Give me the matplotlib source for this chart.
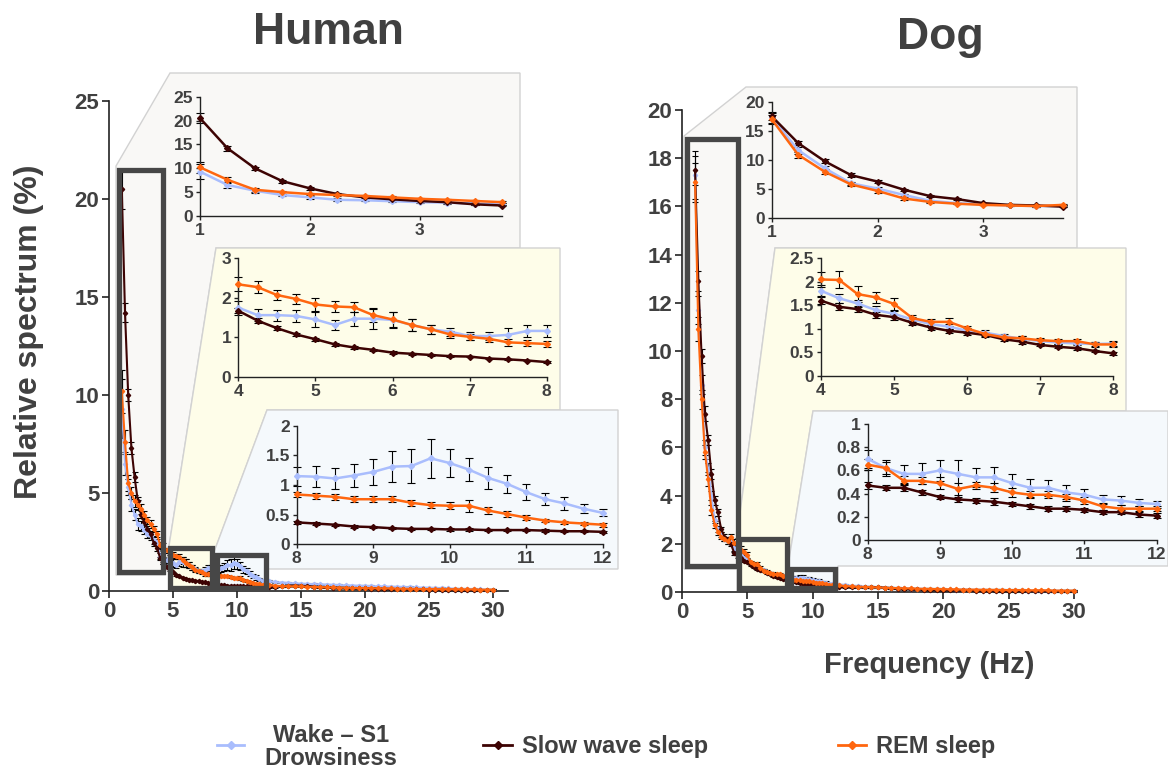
import matplotlib
matplotlib.use("Agg")
import matplotlib.pyplot as plt
from matplotlib.patches import Polygon, Rectangle
from matplotlib.lines import Line2D
from matplotlib.ticker import FuncFormatter
import numpy as np

plt.rcParams['font.family'] = ['Liberation Sans', 'DejaVu Sans']
plt.rcParams['font.weight'] = 'bold'

W, H = 1168, 771
GREY = '#404040'
C_WAKE = '#a9bdfd'
C_SWS = '#3d0303'
C_REM = '#ff660f'

# frequency bins (Hz)
f_low = np.arange(1.0, 3.76, 0.25)
f_mid = np.arange(4.0, 8.01, 0.25)
f_high = np.arange(8.0, 12.01, 0.25)
f_tail = np.arange(12.5, 30.01, 0.5)

# ---------------- Human ----------------
hum_wake_low = [9.3, 6.5, 5.3, 4.4, 3.9, 3.4, 3.3, 3.1, 2.9, 2.8, 2.6, 2.5]
hum_sws_low = [20.5, 14.2, 10.0, 7.3, 5.8, 4.6, 3.9, 3.5, 3.15, 2.9, 2.45, 2.2]
hum_rem_low = [10.2, 7.6, 5.5, 5.0, 4.6, 4.4, 4.2, 3.9, 3.6, 3.4, 3.15, 2.9]
hum_wake_low_err = [1.5, 0.6, 0.4, 0.3, 0.3, 0.3, 0.25, 0.2, 0.2, 0.2, 0.2, 0.15]
hum_sws_low_err = [1.0, 0.5, 0.3, 0.3, 0.25, 0.2, 0.2, 0.15, 0.15, 0.15, 0.15, 0.15]
hum_rem_low_err = [1.1, 0.6, 0.4, 0.3, 0.3, 0.25, 0.25, 0.2, 0.2, 0.2, 0.15, 0.15]

hum_wake_mid = [1.75, 1.56, 1.56, 1.54, 1.45, 1.31, 1.47, 1.47, 1.44, 1.31, 1.20, 1.14, 1.03, 1.03, 1.06, 1.16, 1.16]
hum_sws_mid = [1.67, 1.42, 1.23, 1.07, 0.95, 0.82, 0.74, 0.68, 0.61, 0.58, 0.55, 0.52, 0.51, 0.46, 0.44, 0.41, 0.37]
hum_rem_mid = [2.34, 2.27, 2.07, 1.97, 1.83, 1.78, 1.76, 1.56, 1.45, 1.31, 1.20, 1.07, 1.01, 0.96, 0.87, 0.85, 0.83]
hum_wake_mid_err = [0.18, 0.16, 0.14, 0.15, 0.2, 0.13, 0.18, 0.25, 0.21, 0.15, 0.11, 0.1, 0.11, 0.11, 0.17, 0.16, 0.16]
hum_sws_mid_err = [0.06, 0.06, 0.05, 0.04, 0.04, 0.03, 0.03, 0.03, 0.03, 0.03, 0.02, 0.02, 0.02, 0.02, 0.02, 0.02, 0.02]
hum_rem_mid_err = [0.18, 0.16, 0.13, 0.12, 0.17, 0.13, 0.13, 0.17, 0.2, 0.15, 0.11, 0.09, 0.07, 0.07, 0.08, 0.08, 0.08]

hum_wake_high = [1.15, 1.14, 1.11, 1.16, 1.22, 1.31, 1.32, 1.45, 1.37, 1.26, 1.12, 1.02, 0.88, 0.76, 0.69, 0.60, 0.53]
hum_sws_high = [0.37, 0.35, 0.33, 0.30, 0.29, 0.27, 0.26, 0.26, 0.25, 0.25, 0.24, 0.24, 0.24, 0.23, 0.22, 0.22, 0.21]
hum_rem_high = [0.84, 0.82, 0.80, 0.76, 0.76, 0.76, 0.70, 0.66, 0.65, 0.65, 0.57, 0.51, 0.45, 0.40, 0.37, 0.35, 0.33]
hum_wake_high_err = [0.16, 0.18, 0.17, 0.19, 0.22, 0.26, 0.29, 0.33, 0.24, 0.2, 0.18, 0.15, 0.13, 0.1, 0.11, 0.08, 0.06]
hum_sws_high_err = [0.02, 0.02, 0.02, 0.02, 0.02, 0.02, 0.02, 0.02, 0.02, 0.02, 0.02, 0.02, 0.02, 0.02, 0.02, 0.02, 0.02]
hum_rem_high_err = [0.05, 0.05, 0.05, 0.05, 0.05, 0.05, 0.05, 0.05, 0.06, 0.1, 0.06, 0.05, 0.04, 0.03, 0.03, 0.03, 0.03]

hum_wake_tail = [0.50, 0.46, 0.43, 0.41, 0.39, 0.37, 0.36, 0.35, 0.34, 0.33, 0.31, 0.30, 0.29, 0.28, 0.27, 0.26, 0.25, 0.24,
                 0.23, 0.22, 0.21, 0.20, 0.19, 0.18, 0.17, 0.16, 0.15, 0.14, 0.13, 0.12, 0.11, 0.10, 0.09, 0.08, 0.07, 0.06]
hum_sws_tail = [0.20, 0.21, 0.24, 0.27, 0.28, 0.27, 0.25, 0.22, 0.20, 0.18, 0.17, 0.16, 0.15, 0.14, 0.14, 0.13, 0.12, 0.12,
                0.11, 0.10, 0.10, 0.09, 0.09, 0.08, 0.08, 0.07, 0.07, 0.06, 0.06, 0.06, 0.05, 0.05, 0.05, 0.04, 0.04, 0.04]
hum_rem_tail = [0.30, 0.27, 0.25, 0.24, 0.24, 0.23, 0.22, 0.21, 0.20, 0.19, 0.18, 0.17, 0.17, 0.16, 0.15, 0.15, 0.14, 0.14,
                0.13, 0.13, 0.12, 0.12, 0.11, 0.11, 0.10, 0.10, 0.10, 0.09, 0.09, 0.09, 0.08, 0.08, 0.08, 0.07, 0.07, 0.07]
hum_tail_err = 0.04

# ---------------- Dog ----------------
dog_wake_low = [17.3, 11.7, 8.6, 6.0, 5.1, 4.0, 3.0, 2.6, 2.4, 2.2, 2.1, 2.1]
dog_sws_low = [17.5, 12.9, 9.8, 7.4, 6.3, 4.9, 3.8, 3.3, 2.6, 2.3, 2.2, 2.0]
dog_rem_low = [17.0, 10.9, 8.0, 5.8, 4.7, 3.4, 2.8, 2.5, 2.3, 2.2, 2.1, 2.3]
dog_wake_low_err = [1.0, 0.6, 0.4, 0.3, 0.25, 0.2, 0.15, 0.12, 0.1, 0.1, 0.1, 0.1]
dog_sws_low_err = [0.6, 0.4, 0.3, 0.3, 0.2, 0.2, 0.2, 0.15, 0.1, 0.1, 0.1, 0.1]
dog_rem_low_err = [0.8, 0.5, 0.4, 0.3, 0.3, 0.2, 0.15, 0.12, 0.1, 0.1, 0.1, 0.1]

dog_wake_mid = [1.81, 1.65, 1.54, 1.40, 1.32, 1.20, 1.10, 1.05, 0.96, 0.92, 0.85, 0.79, 0.74, 0.71, 0.69, 0.68, 0.69]
dog_sws_mid = [1.60, 1.47, 1.42, 1.30, 1.25, 1.13, 1.03, 0.96, 0.92, 0.87, 0.78, 0.73, 0.66, 0.62, 0.59, 0.53, 0.48]
dog_rem_mid = [2.05, 2.04, 1.74, 1.67, 1.53, 1.23, 1.15, 1.15, 1.01, 0.89, 0.82, 0.80, 0.76, 0.74, 0.74, 0.67, 0.67]
dog_wake_mid_err = [0.12, 0.1, 0.08, 0.08, 0.07, 0.06, 0.06, 0.06, 0.05, 0.05, 0.05, 0.05, 0.04, 0.04, 0.04, 0.04, 0.06]
dog_sws_mid_err = [0.08, 0.07, 0.07, 0.06, 0.06, 0.05, 0.05, 0.04, 0.05, 0.05, 0.04, 0.04, 0.03, 0.03, 0.03, 0.03, 0.03]
dog_rem_mid_err = [0.15, 0.18, 0.17, 0.12, 0.12, 0.06, 0.06, 0.08, 0.06, 0.05, 0.04, 0.05, 0.05, 0.05, 0.05, 0.05, 0.05]

dog_wake_high = [0.70, 0.62, 0.57, 0.57, 0.60, 0.57, 0.54, 0.54, 0.49, 0.45, 0.45, 0.41, 0.39, 0.35, 0.34, 0.32, 0.31]
dog_sws_high = [0.47, 0.45, 0.45, 0.41, 0.37, 0.35, 0.34, 0.33, 0.31, 0.29, 0.27, 0.27, 0.26, 0.24, 0.24, 0.22, 0.21]
dog_rem_high = [0.65, 0.62, 0.51, 0.51, 0.49, 0.44, 0.47, 0.45, 0.41, 0.39, 0.39, 0.37, 0.34, 0.29, 0.27, 0.27, 0.27]
dog_wake_high_err = [0.08, 0.07, 0.08, 0.09, 0.09, 0.12, 0.08, 0.09, 0.08, 0.08, 0.07, 0.06, 0.05, 0.04, 0.04, 0.03, 0.03]
dog_sws_high_err = [0.03, 0.02, 0.03, 0.02, 0.02, 0.02, 0.02, 0.03, 0.02, 0.02, 0.02, 0.02, 0.02, 0.02, 0.02, 0.02, 0.02]
dog_rem_high_err = [0.05, 0.05, 0.04, 0.03, 0.05, 0.05, 0.03, 0.04, 0.04, 0.03, 0.03, 0.03, 0.03, 0.03, 0.03, 0.02, 0.02]

dog_wake_tail = [0.29, 0.26, 0.24, 0.22, 0.20, 0.19, 0.18, 0.17, 0.16, 0.15, 0.14, 0.14, 0.13, 0.12, 0.12, 0.11, 0.11, 0.10,
                 0.10, 0.09, 0.09, 0.09, 0.08, 0.08, 0.08, 0.07, 0.07, 0.07, 0.06, 0.06, 0.06, 0.06, 0.05, 0.05, 0.05, 0.05]
dog_sws_tail = [0.20, 0.19, 0.19, 0.20, 0.21, 0.20, 0.18, 0.16, 0.14, 0.13, 0.12, 0.11, 0.10, 0.09, 0.09, 0.08, 0.08, 0.07,
                0.07, 0.07, 0.06, 0.06, 0.06, 0.05, 0.05, 0.05, 0.05, 0.04, 0.04, 0.04, 0.04, 0.04, 0.03, 0.03, 0.03, 0.03]
dog_rem_tail = [0.25, 0.23, 0.22, 0.21, 0.20, 0.19, 0.18, 0.17, 0.16, 0.15, 0.15, 0.14, 0.13, 0.13, 0.12, 0.12, 0.11, 0.11,
                0.10, 0.10, 0.10, 0.09, 0.09, 0.09, 0.08, 0.08, 0.08, 0.08, 0.07, 0.07, 0.07, 0.07, 0.06, 0.06, 0.06, 0.06]
dog_tail_err = 0.03

labels = ['Wake \u2013 S1\nDrowsiness', 'Slow wave sleep', 'REM sleep']
colors = [C_WAKE, C_SWS, C_REM]


def fbox(l, t, r, b):
    return [l / W, 1 - b / H, (r - l) / W, (b - t) / H]


def fig_pts(pts):
    return [(x / W, 1 - y / H) for x, y in pts]


def fmt(v, _):
    return f'{v:g}'


def style(ax, fs, tl, lw):
    for s in ['top', 'right']:
        ax.spines[s].set_visible(False)
    for s in ['left', 'bottom']:
        ax.spines[s].set_color('#222222')
        ax.spines[s].set_linewidth(lw)
    ax.patch.set_alpha(0)
    ax.tick_params(direction='out', length=tl, width=lw, colors='#222222',
                   labelcolor=GREY, labelsize=fs, pad=2)
    for t in ax.get_xticklabels() + ax.get_yticklabels():
        t.set_fontweight('bold')
    ax.xaxis.set_major_formatter(FuncFormatter(fmt))
    ax.yaxis.set_major_formatter(FuncFormatter(fmt))


def draw(ax, x, ys, es, ms, lw, cs):
    for y, e, c in zip(ys, es, colors):
        ax.errorbar(x, y, yerr=e, fmt='none', ecolor='black', elinewidth=0.8,
                    capsize=cs, capthick=0.8, zorder=2, clip_on=False)
        ax.plot(x, y, color=c, lw=lw, marker='D', ms=ms, mec=c, zorder=3, clip_on=False)


fig = plt.figure(figsize=(W / 100, H / 100), dpi=100)

# zoom callout panels (behind axes)
panels = [
    ([(116, 166), (170, 73), (520, 73), (520, 248), (216, 248), (169, 546), (165, 575), (116, 575)], '#f9f8f6'),
    ([(169, 546), (216, 248), (560, 248), (560, 410), (267, 410), (214, 552), (214, 590), (169, 590)], '#fefde9'),
    ([(214, 552), (267, 410), (618, 410), (618, 569), (268, 569), (268, 590), (214, 590)], '#f5f9fc'),
    ([(684, 136), (746, 87), (1077, 87), (1077, 248), (775, 248), (737, 536), (740, 569), (684, 569)], '#f9f8f6'),
    ([(737, 536), (775, 248), (1126, 248), (1126, 411), (813, 411), (788, 566), (788, 591), (737, 591)], '#fefde9'),
    ([(788, 566), (813, 411), (1168, 411), (1168, 566), (838, 566), (838, 591), (788, 591)], '#f5f9fc'),
]
for pts, col in panels:
    fig.add_artist(Polygon(fig_pts(pts), closed=True, transform=fig.transFigure,
                           facecolor=col, edgecolor='#d2d2d2', lw=1, zorder=-5))

# ---------------- main axes ----------------
specs = [
    ('hum', fbox(109, 101, 508.4, 591), (0, 31.2), (0, 25), range(0, 26, 5),
     [hum_wake_low, hum_sws_low, hum_rem_low],
     [hum_wake_mid, hum_sws_mid, hum_rem_mid],
     [hum_wake_high, hum_sws_high, hum_rem_high],
     [hum_wake_tail, hum_sws_tail, hum_rem_tail],
     [hum_wake_low_err, hum_sws_low_err, hum_rem_low_err],
     [hum_wake_mid_err, hum_sws_mid_err, hum_rem_mid_err],
     [hum_wake_high_err, hum_sws_high_err, hum_rem_high_err], hum_tail_err,
     [((0.75, 0.95), 4.2, 21.5), ((4.8, 0.15), 8.05, 2.17), ((8.4, 0.15), 12.27, 1.86)]),
    ('dog', fbox(682, 110, 1074, 592), (0, 30), (0, 20), range(0, 21, 2),
     [dog_wake_low, dog_sws_low, dog_rem_low],
     [dog_wake_mid, dog_sws_mid, dog_rem_mid],
     [dog_wake_high, dog_sws_high, dog_rem_high],
     [dog_wake_tail, dog_sws_tail, dog_rem_tail],
     [dog_wake_low_err, dog_sws_low_err, dog_rem_low_err],
     [dog_wake_mid_err, dog_sws_mid_err, dog_rem_mid_err],
     [dog_wake_high_err, dog_sws_high_err, dog_rem_high_err], dog_tail_err,
     [((0.38, 1.06), 4.25, 18.8), ((4.4, 0.15), 8.0, 2.2), ((8.34, 0.15), 11.74, 0.95)]),
]

for name, box, xl, yl, yt, low, mid, high, tail, elow, emid, ehigh, etail, rects in specs:
    ax = fig.add_axes(box)
    x_all = np.concatenate([f_low, f_mid, f_high[1:], f_tail])
    ys = [np.concatenate([a, b, c[1:], d]) for a, b, c, d in zip(low, mid, high, tail)]
    es = [np.concatenate([a, b, c[1:], [etail] * len(f_tail)]) for a, b, c in zip(elow, emid, ehigh)]
    draw(ax, x_all, ys, es, ms=2.2, lw=1.5, cs=2)
    ax.set_xlim(*xl)
    ax.set_ylim(*yl)
    ax.set_xticks(range(0, 31, 5))
    ax.set_yticks(list(yt))
    style(ax, 16, 5, 1.2)
    for (x0, y0), x1, y1 in rects:
        ax.add_patch(Rectangle((x0, y0), x1 - x0, y1 - y0, fill=False, edgecolor='#474747',
                               lw=3.8, zorder=4, clip_on=False))

# ---------------- insets ----------------
insets = [
    (fbox(200, 96.7, 502, 216), f_low, (1, 3.75), (0, 25), [0, 5, 10, 15, 20, 25], [1, 2, 3],
     [hum_wake_low, hum_sws_low, hum_rem_low], [hum_wake_low_err, hum_sws_low_err, hum_rem_low_err]),
    (fbox(238.3, 258.3, 546.7, 376.7), f_mid, (4, 8), (0, 3), [0, 1, 2, 3], [4, 5, 6, 7, 8],
     [hum_wake_mid, hum_sws_mid, hum_rem_mid], [hum_wake_mid_err, hum_sws_mid_err, hum_rem_mid_err]),
    (fbox(296.7, 425.7, 602.7, 544.3), f_high, (8, 12), (0, 2), [0, 0.5, 1, 1.5, 2], [8, 9, 10, 11, 12],
     [hum_wake_high, hum_sws_high, hum_rem_high], [hum_wake_high_err, hum_sws_high_err, hum_rem_high_err]),
    (fbox(771.7, 101.7, 1062.7, 218.3), f_low, (1, 3.75), (0, 20), [0, 5, 10, 15, 20], [1, 2, 3],
     [dog_wake_low, dog_sws_low, dog_rem_low], [dog_wake_low_err, dog_sws_low_err, dog_rem_low_err]),
    (fbox(821, 258.3, 1113.3, 376), f_mid, (4, 8), (0, 2.5), [0, 0.5, 1, 1.5, 2, 2.5], [4, 5, 6, 7, 8],
     [dog_wake_mid, dog_sws_mid, dog_rem_mid], [dog_wake_mid_err, dog_sws_mid_err, dog_rem_mid_err]),
    (fbox(867.7, 424, 1156.7, 540), f_high, (8, 12), (0, 1), [0, 0.2, 0.4, 0.6, 0.8, 1], [8, 9, 10, 11, 12],
     [dog_wake_high, dog_sws_high, dog_rem_high], [dog_wake_high_err, dog_sws_high_err, dog_rem_high_err]),
]
for box, x, xl, yl, yt, xt, ys, es in insets:
    ax = fig.add_axes(box, zorder=2)
    draw(ax, x, ys, es, ms=3, lw=1.8, cs=3)
    ax.set_xlim(*xl)
    ax.set_ylim(*yl)
    ax.set_xticks(xt)
    ax.set_yticks(yt)
    style(ax, 12.5, 3, 1.0)

# ---------------- text ----------------
fig.text(328 / W, 1 - 32 / H, 'Human', fontsize=32, fontweight='bold', color=GREY, ha='center', va='center')
fig.text(940 / W, 1 - 37 / H, 'Dog', fontsize=32, fontweight='bold', color=GREY, ha='center', va='center')
fig.text(29 / W, 1 - 332 / H, 'Relative spectrum (%)', fontsize=23, fontweight='bold', color=GREY,
         rotation=90, ha='center', va='center')
fig.text(929 / W, 1 - 665 / H, 'Frequency (Hz)', fontsize=21, fontweight='bold', color=GREY,
         ha='center', va='center')

# ---------------- legend ----------------
leg_items = [((217, 244), 331, 'center'), ((483, 512), 522, 'left'), ((838, 866), 876, 'left')]
for ((x0, x1), tx, ha), lab, c in zip(leg_items, labels, colors):
    xm = (x0 + x1) / 2
    fig.add_artist(Line2D([x0 / W, xm / W, x1 / W], [1 - 745 / H] * 3, transform=fig.transFigure,
                          color=c, lw=2, marker='D', ms=4, markevery=[1]))
    fig.text(tx / W, 1 - 747 / H, lab, fontsize=17, fontweight='bold', color=GREY,
             ha=ha, va='center', multialignment='center', linespacing=1.0)

fig.savefig('out.png', dpi=100)
